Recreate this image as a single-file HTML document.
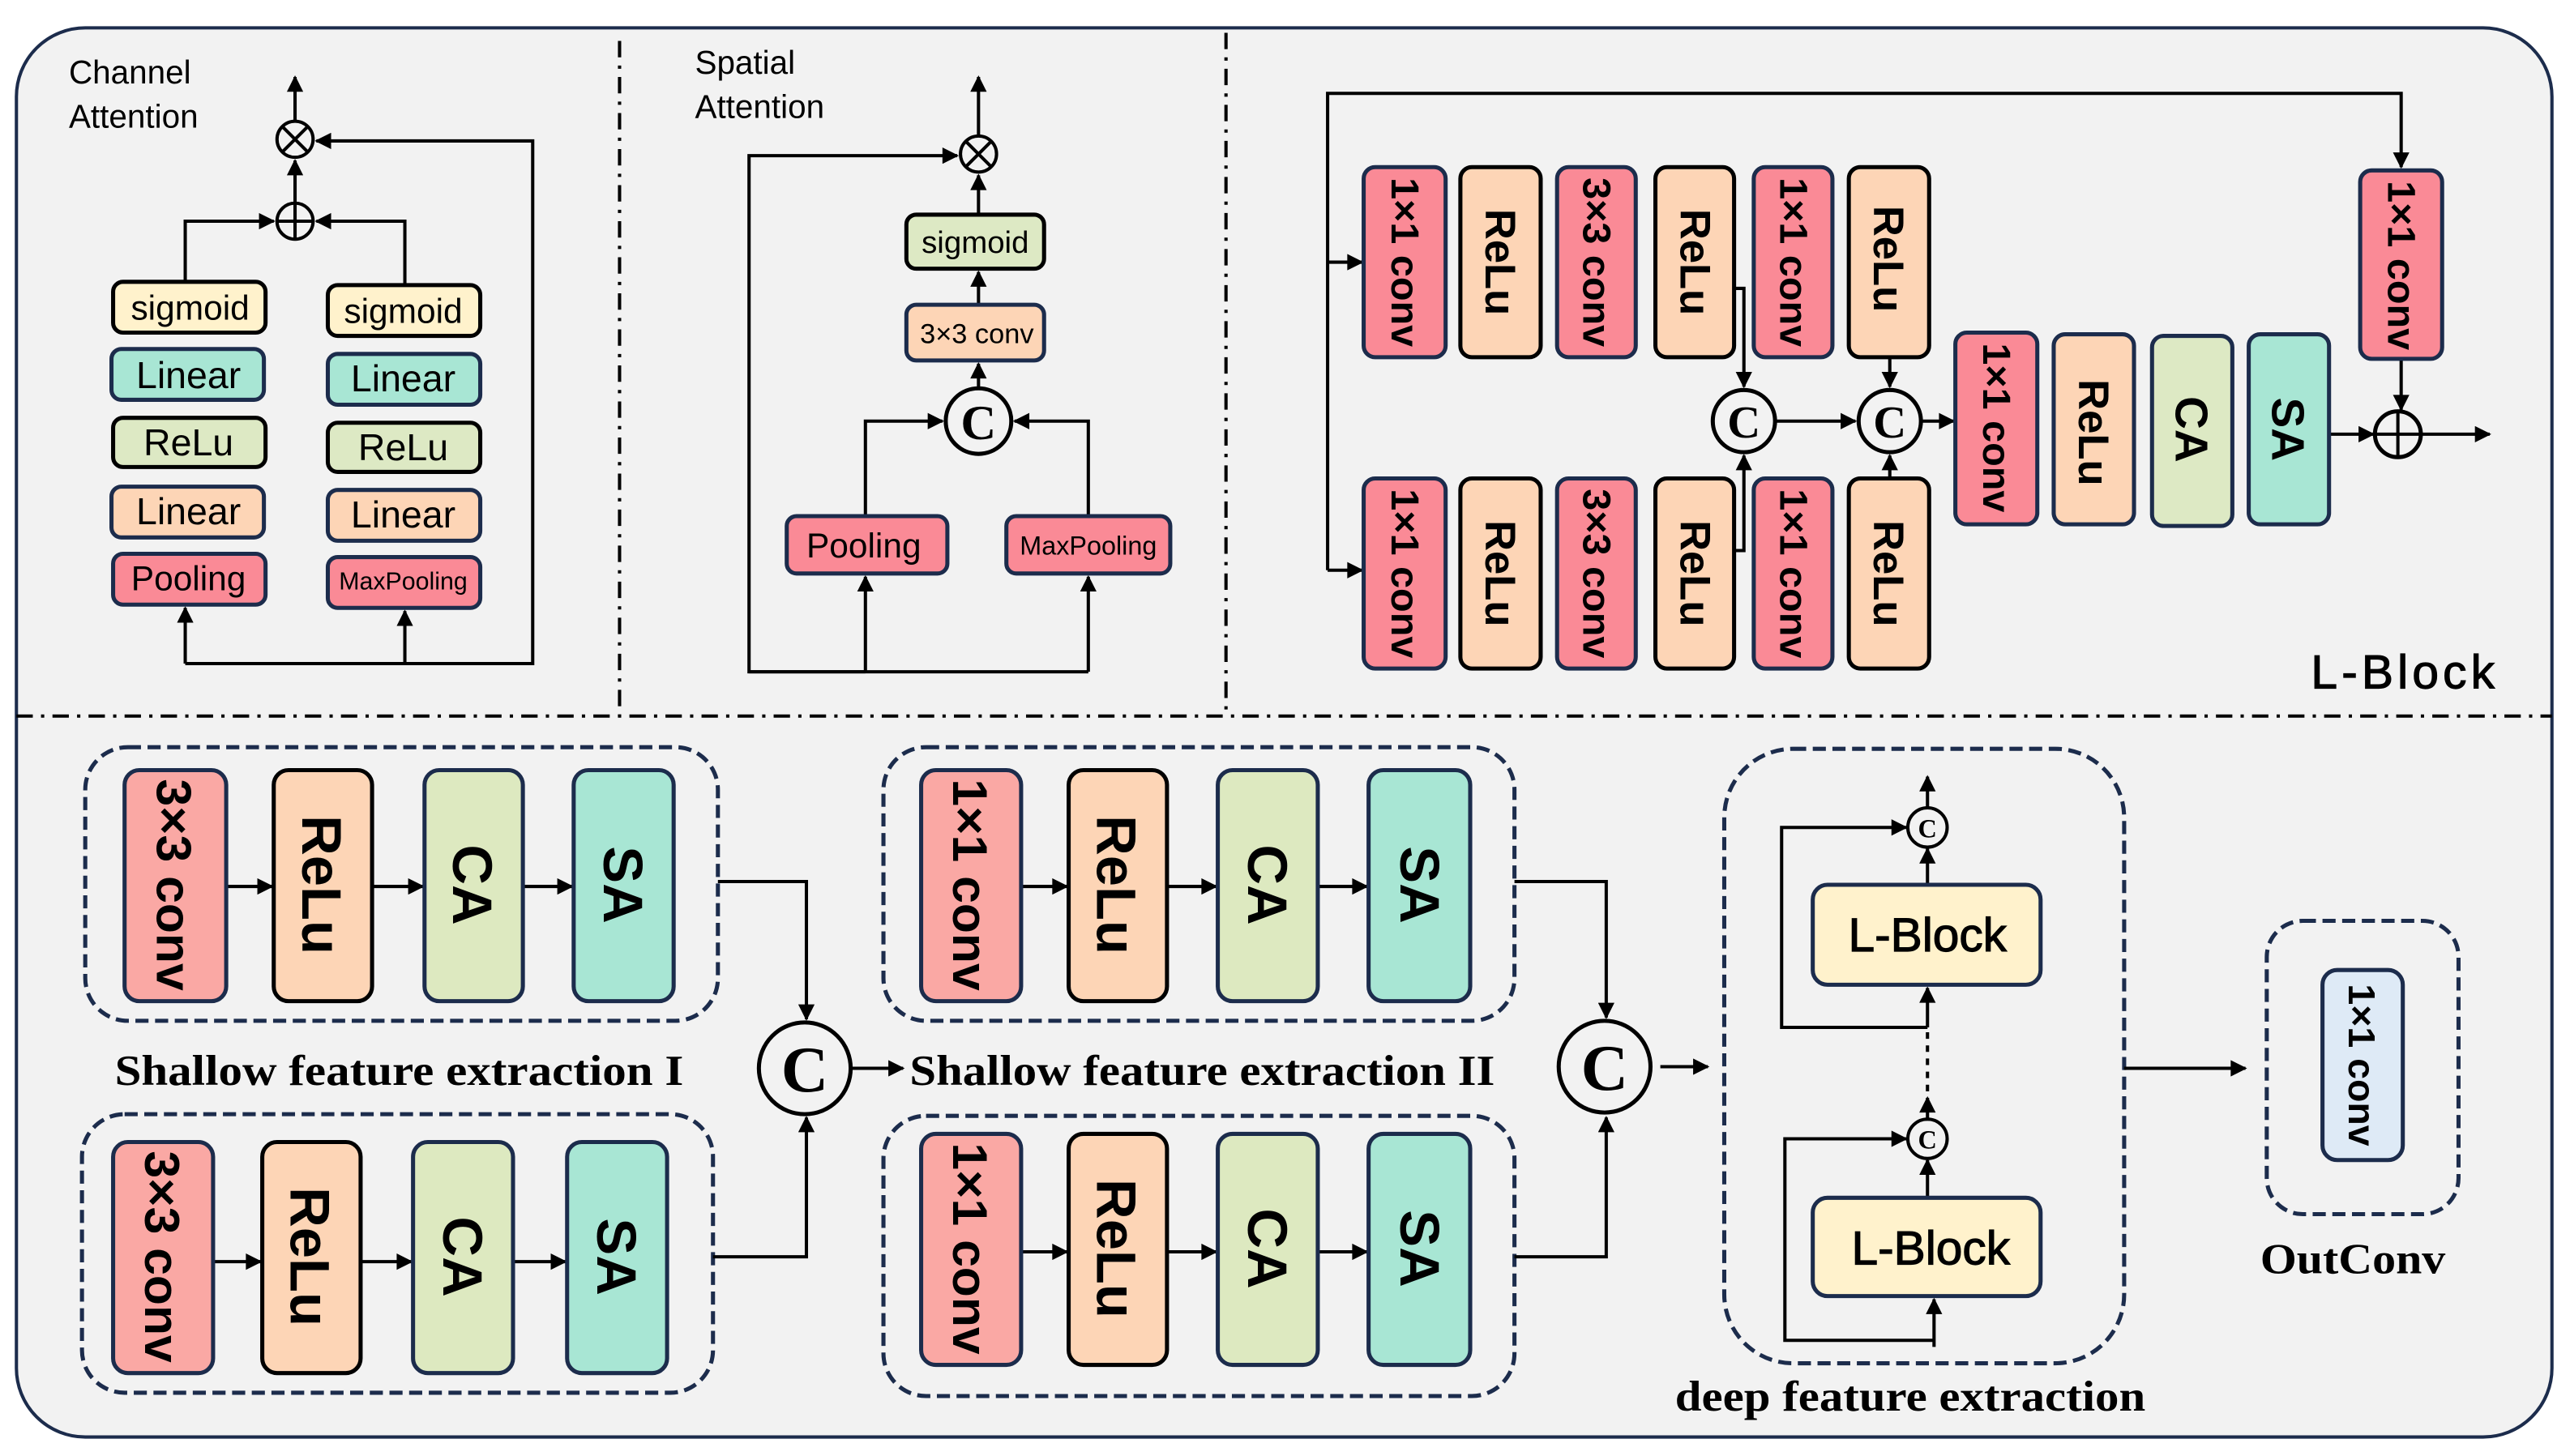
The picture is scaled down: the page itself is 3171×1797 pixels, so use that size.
<!DOCTYPE html>
<html><head><meta charset="utf-8"><style>
html,body{margin:0;padding:0;background:#fff;}
svg{display:block;}
.s{font-family:"Liberation Sans",sans-serif;}
.b{font-family:"Liberation Sans",sans-serif;font-weight:bold;}
.sr{font-family:"Liberation Serif",serif;font-weight:bold;}
</style></head><body>
<svg width="3171" height="1797" viewBox="0 0 1568 888.6" xmlns="http://www.w3.org/2000/svg">
<defs>
<marker id="a" viewBox="0 0 10 10" refX="9" refY="5" markerWidth="5.5" markerHeight="5" orient="auto" markerUnits="strokeWidth"><path d="M0,0 L10,5 L0,10 z" fill="#000"/></marker>
</defs>
<rect x="0" y="0" width="1568" height="888.6" fill="#fff"/>
<rect x="10" y="17" width="1547" height="860" rx="42" fill="#f2f2f2" stroke="#1c2c4c" stroke-width="2"/>
<g stroke="#000" stroke-width="2" stroke-dasharray="10,5,2,5" fill="none">
<line x1="378" y1="25" x2="378" y2="437"/>
<line x1="748" y1="20" x2="748" y2="437"/>
<line x1="10" y1="437" x2="1557" y2="437"/>
</g>

<!-- Channel attention -->
<text class="s" x="42" y="51" font-size="20">Channel</text>
<text class="s" x="42" y="78" font-size="20">Attention</text>
<g stroke="#000" stroke-width="2" fill="none">
<line x1="180" y1="74" x2="180" y2="47" marker-end="url(#a)"/>
<line x1="180" y1="124" x2="180" y2="98" marker-end="url(#a)"/>
<circle cx="180" cy="85" r="11"/><line x1="172" y1="77" x2="188" y2="93"/><line x1="188" y1="77" x2="172" y2="93"/>
<circle cx="180" cy="135" r="11"/><line x1="169" y1="135" x2="191" y2="135"/><line x1="180" y1="124" x2="180" y2="146"/>
<polyline points="113,172 113,135 167,135" marker-end="url(#a)"/>
<polyline points="247,174 247,135 193,135" marker-end="url(#a)"/>
<polyline points="113,405 325,405 325,86 193,86" marker-end="url(#a)"/>
<line x1="113" y1="405" x2="113" y2="371" marker-end="url(#a)"/>
<line x1="247" y1="405" x2="247" y2="373" marker-end="url(#a)"/>
</g>
<g stroke="#1c2c4c" stroke-width="2.5">
<rect x="69" y="172" width="93" height="31" rx="6" fill="#fff2cc" stroke="#000"/>
<rect x="200" y="174" width="93" height="31" rx="6" fill="#fff2cc" stroke="#000"/>
<rect x="68" y="213" width="93" height="31" rx="6" fill="#a8e6d4"/>
<rect x="200" y="216" width="93" height="31" rx="6" fill="#a8e6d4"/>
<rect x="69" y="255" width="93" height="30" rx="6" fill="#dde9c4" stroke="#000"/>
<rect x="200" y="258" width="93" height="30" rx="6" fill="#dde9c4" stroke="#000"/>
<rect x="68" y="297" width="93" height="31" rx="6" fill="#fdd5b6"/>
<rect x="200" y="299" width="93" height="31" rx="6" fill="#fdd5b6"/>
<rect x="69" y="338" width="93" height="31" rx="6" fill="#fa8a96"/>
<rect x="200" y="340" width="93" height="31" rx="6" fill="#fa8a96"/>
</g>
<g class="s" font-size="21" text-anchor="middle" dominant-baseline="central">
<text x="116" y="188">sigmoid</text><text x="246" y="190">sigmoid</text>
<text x="115" y="229" font-size="23">Linear</text><text x="246" y="231" font-size="23">Linear</text>
<text x="115" y="270" font-size="23">ReLu</text><text x="246" y="273" font-size="23">ReLu</text>
<text x="115" y="312" font-size="23">Linear</text><text x="246" y="314" font-size="23">Linear</text>
<text x="115" y="353" font-size="21">Pooling</text><text x="246" y="355" font-size="15">MaxPooling</text>
</g>

<!-- Spatial attention -->
<text class="s" x="424" y="45" font-size="20">Spatial</text>
<text class="s" x="424" y="72" font-size="20">Attention</text>
<g stroke="#000" stroke-width="2" fill="none">
<circle cx="597" cy="94" r="11"/><line x1="589" y1="86" x2="605" y2="102"/><line x1="605" y1="86" x2="589" y2="102"/>
<line x1="597" y1="83" x2="597" y2="47" marker-end="url(#a)"/>
<line x1="597" y1="131" x2="597" y2="107" marker-end="url(#a)"/>
<line x1="597" y1="186" x2="597" y2="166" marker-end="url(#a)"/>
<line x1="597" y1="237" x2="597" y2="222" marker-end="url(#a)"/>
<circle cx="597" cy="257" r="20" stroke-width="2.5"/>
<polyline points="528,315 528,257 575,257" marker-end="url(#a)"/>
<polyline points="664,315 664,257 619,257" marker-end="url(#a)"/>
<polyline points="528,410 457,410 457,95 584,95" marker-end="url(#a)"/>
<line x1="457" y1="410" x2="664" y2="410"/>
<line x1="528" y1="410" x2="528" y2="352" marker-end="url(#a)"/>
<line x1="664" y1="410" x2="664" y2="352" marker-end="url(#a)"/>
</g>
<text class="sr" x="597" y="268" font-size="30" text-anchor="middle">C</text>
<g stroke="#1c2c4c" stroke-width="2.5">
<rect x="553" y="131" width="84" height="33" rx="6" fill="#dde9c4" stroke="#000"/>
<rect x="553" y="186" width="84" height="34" rx="6" fill="#fdd5b6"/>
<rect x="480" y="315" width="98" height="35" rx="6" fill="#fa8a96"/>
<rect x="614" y="315" width="100" height="35" rx="6" fill="#fa8a96"/>
</g>
<g class="s" text-anchor="middle" dominant-baseline="central">
<text x="595" y="148" font-size="19">sigmoid</text>
<text x="596" y="204" font-size="17">3×3 conv</text>
<text x="527" y="333" font-size="21">Pooling</text>
<text x="664" y="333" font-size="16">MaxPooling</text>
</g>

<!-- L-Block -->
<g stroke="#000" stroke-width="2" fill="none">
<polyline points="810,348 810,57 1465,57 1465,102" marker-end="url(#a)"/>
<line x1="810" y1="160" x2="831" y2="160" marker-end="url(#a)"/>
<line x1="810" y1="348" x2="831" y2="348" marker-end="url(#a)"/>
<polyline points="1058,176 1064,176 1064,236" marker-end="url(#a)"/>
<polyline points="1058,336 1064,336 1064,278" marker-end="url(#a)"/>
<line x1="1153" y1="218" x2="1153" y2="236" marker-end="url(#a)"/>
<line x1="1153" y1="292" x2="1153" y2="278" marker-end="url(#a)"/>
<line x1="1084" y1="257" x2="1132" y2="257" marker-end="url(#a)"/>
<line x1="1173" y1="257" x2="1192" y2="257" marker-end="url(#a)"/>
<circle cx="1064" cy="257" r="19" stroke-width="2.5"/>
<circle cx="1153" cy="257" r="19" stroke-width="2.5"/>
<line x1="1465" y1="219" x2="1465" y2="250" marker-end="url(#a)"/>
<line x1="1421" y1="265" x2="1448" y2="265" marker-end="url(#a)"/>
<circle cx="1463" cy="265" r="14" stroke-width="2.5"/>
<line x1="1449" y1="265" x2="1477" y2="265"/><line x1="1463" y1="251" x2="1463" y2="279"/>
<line x1="1477" y1="265" x2="1519" y2="265" marker-end="url(#a)"/>
</g>
<g class="sr" font-size="28" text-anchor="middle"><text x="1064" y="267">C</text><text x="1153" y="267">C</text></g>
<g stroke-width="2.5">
<rect x="832" y="102" width="50" height="116" rx="7" fill="#fa8a96" stroke="#1c2c4c"/>
<rect x="891" y="102" width="49" height="116" rx="7" fill="#fdd5b6" stroke="#000"/>
<rect x="950" y="102" width="48" height="116" rx="7" fill="#fa8a96" stroke="#1c2c4c"/>
<rect x="1010" y="102" width="48" height="116" rx="7" fill="#fdd5b6" stroke="#000"/>
<rect x="1070" y="102" width="48" height="116" rx="7" fill="#fa8a96" stroke="#1c2c4c"/>
<rect x="1128" y="102" width="49" height="116" rx="7" fill="#fdd5b6" stroke="#000"/>
<rect x="832" y="292" width="50" height="116" rx="7" fill="#fa8a96" stroke="#1c2c4c"/>
<rect x="891" y="292" width="49" height="116" rx="7" fill="#fdd5b6" stroke="#000"/>
<rect x="950" y="292" width="48" height="116" rx="7" fill="#fa8a96" stroke="#1c2c4c"/>
<rect x="1010" y="292" width="48" height="116" rx="7" fill="#fdd5b6" stroke="#000"/>
<rect x="1070" y="292" width="48" height="116" rx="7" fill="#fa8a96" stroke="#1c2c4c"/>
<rect x="1128" y="292" width="49" height="116" rx="7" fill="#fdd5b6" stroke="#000"/>
<rect x="1193" y="203" width="50" height="117" rx="7" fill="#fa8a96" stroke="#1c2c4c"/>
<rect x="1253" y="204" width="49" height="116" rx="7" fill="#fdd5b6" stroke="#1c2c4c"/>
<rect x="1313" y="205" width="49" height="116" rx="7" fill="#dde9c4" stroke="#1c2c4c"/>
<rect x="1372" y="204" width="49" height="116" rx="7" fill="#a8e6d4" stroke="#1c2c4c"/>
<rect x="1440" y="104" width="50" height="115" rx="7" fill="#fa8a96" stroke="#1c2c4c"/>
</g>
<g class="b" text-anchor="middle" dominant-baseline="central">
<text transform="translate(857,160) rotate(90)" font-size="24">1×1 conv</text>
<text transform="translate(915,160) rotate(90)" font-size="26">ReLu</text>
<text transform="translate(974,160) rotate(90)" font-size="24">3×3 conv</text>
<text transform="translate(1034,160) rotate(90)" font-size="26">ReLu</text>
<text transform="translate(1094,160) rotate(90)" font-size="24">1×1 conv</text>
<text transform="translate(1152,158) rotate(90)" font-size="26">ReLu</text>
<text transform="translate(857,350) rotate(90)" font-size="24">1×1 conv</text>
<text transform="translate(915,350) rotate(90)" font-size="26">ReLu</text>
<text transform="translate(974,350) rotate(90)" font-size="24">3×3 conv</text>
<text transform="translate(1034,350) rotate(90)" font-size="26">ReLu</text>
<text transform="translate(1094,350) rotate(90)" font-size="24">1×1 conv</text>
<text transform="translate(1152,350) rotate(90)" font-size="26">ReLu</text>
<text transform="translate(1218,261) rotate(90)" font-size="24">1×1 conv</text>
<text transform="translate(1277,264) rotate(90)" font-size="26">ReLu</text>
<text transform="translate(1337,262) rotate(90)" font-size="28">CA</text>
<text transform="translate(1396,262) rotate(90)" font-size="28">SA</text>
<text transform="translate(1465,162) rotate(90)" font-size="24">1×1 conv</text>
</g>
<text class="s" x="1410" y="420" font-size="29" textLength="112" stroke="#000" stroke-width="0.6">L-Block</text>

<!-- Bottom -->
<g fill="none" stroke="#1c2c4c" stroke-width="2.5" stroke-dasharray="8,4">
<rect x="52" y="456" width="386" height="167" rx="26"/>
<rect x="50" y="680" width="385" height="170" rx="26"/>
<rect x="539" y="456" width="385" height="167" rx="26"/>
<rect x="539" y="681" width="385" height="171" rx="26"/>
<rect x="1052" y="457" width="244" height="375" rx="42"/>
<rect x="1383" y="562" width="117" height="179" rx="22"/>
</g>
<g stroke="#000" stroke-width="2" fill="none">
<line x1="138" y1="541" x2="166" y2="541" marker-end="url(#a)"/>
<line x1="227" y1="541" x2="258" y2="541" marker-end="url(#a)"/>
<line x1="319" y1="541" x2="349" y2="541" marker-end="url(#a)"/>
<line x1="130" y1="770" x2="159" y2="770" marker-end="url(#a)"/>
<line x1="220" y1="770" x2="251" y2="770" marker-end="url(#a)"/>
<line x1="313" y1="770" x2="345" y2="770" marker-end="url(#a)"/>
<line x1="623" y1="541" x2="651" y2="541" marker-end="url(#a)"/>
<line x1="712" y1="541" x2="742" y2="541" marker-end="url(#a)"/>
<line x1="804" y1="541" x2="834" y2="541" marker-end="url(#a)"/>
<line x1="623" y1="764" x2="651" y2="764" marker-end="url(#a)"/>
<line x1="712" y1="764" x2="742" y2="764" marker-end="url(#a)"/>
<line x1="804" y1="764" x2="834" y2="764" marker-end="url(#a)"/>
<polyline points="438,538 492,538 492,622" marker-end="url(#a)"/>
<polyline points="435,767 492,767 492,682" marker-end="url(#a)"/>
<circle cx="491" cy="652" r="28" stroke-width="2.5"/>
<line x1="520" y1="652" x2="551" y2="652" marker-end="url(#a)"/>
<polyline points="924,538 980,538 980,621" marker-end="url(#a)"/>
<polyline points="924,767 980,767 980,682" marker-end="url(#a)"/>
<circle cx="979" cy="651" r="28" stroke-width="2.5"/>
<line x1="1013" y1="651" x2="1042" y2="651" marker-end="url(#a)"/>
<line x1="1296" y1="652" x2="1370" y2="652" marker-end="url(#a)"/>
<!-- deep -->
<line x1="1176" y1="493" x2="1176" y2="474" marker-end="url(#a)"/>
<line x1="1176" y1="540" x2="1176" y2="518" marker-end="url(#a)"/>
<circle cx="1176" cy="505" r="12"/>
<polyline points="1176,627 1087,627 1087,505 1163,505" marker-end="url(#a)"/>
<line x1="1176" y1="627" x2="1176" y2="603" marker-end="url(#a)"/>
<line x1="1176" y1="630" x2="1176" y2="668" stroke-dasharray="4,4"/>
<line x1="1176" y1="684" x2="1176" y2="670" marker-end="url(#a)"/>
<circle cx="1176" cy="695" r="12"/>
<line x1="1176" y1="731" x2="1176" y2="708" marker-end="url(#a)"/>
<polyline points="1180,818 1089,818 1089,695 1163,695" marker-end="url(#a)"/>
<line x1="1180" y1="822" x2="1180" y2="793" marker-end="url(#a)"/>
</g>
<g class="sr" text-anchor="middle">
<text x="491" y="666" font-size="40">C</text>
<text x="979" y="665" font-size="40">C</text>
<text x="1176" y="511" font-size="16">C</text>
<text x="1176" y="701" font-size="16">C</text>
</g>
<g stroke-width="2.5">
<rect x="76" y="470" width="62" height="141" rx="9" fill="#faa8a4" stroke="#1c2c4c"/>
<rect x="167" y="470" width="60" height="141" rx="9" fill="#fdd5b6" stroke="#000"/>
<rect x="259" y="470" width="60" height="141" rx="9" fill="#dde9c0" stroke="#1c2c4c"/>
<rect x="350" y="470" width="61" height="141" rx="9" fill="#a8e6d4" stroke="#1c2c4c"/>
<rect x="69" y="697" width="61" height="141" rx="9" fill="#faa8a4" stroke="#1c2c4c"/>
<rect x="160" y="697" width="60" height="141" rx="9" fill="#fdd5b6" stroke="#000"/>
<rect x="252" y="697" width="61" height="141" rx="9" fill="#dde9c0" stroke="#1c2c4c"/>
<rect x="346" y="697" width="61" height="141" rx="9" fill="#a8e6d4" stroke="#1c2c4c"/>
<rect x="562" y="470" width="61" height="141" rx="9" fill="#faa8a4" stroke="#1c2c4c"/>
<rect x="652" y="470" width="60" height="141" rx="9" fill="#fdd5b6" stroke="#000"/>
<rect x="743" y="470" width="61" height="141" rx="9" fill="#dde9c0" stroke="#1c2c4c"/>
<rect x="835" y="470" width="62" height="141" rx="9" fill="#a8e6d4" stroke="#1c2c4c"/>
<rect x="562" y="692" width="61" height="141" rx="9" fill="#faa8a4" stroke="#1c2c4c"/>
<rect x="652" y="692" width="60" height="141" rx="9" fill="#fdd5b6" stroke="#000"/>
<rect x="743" y="692" width="61" height="141" rx="9" fill="#dde9c0" stroke="#1c2c4c"/>
<rect x="835" y="692" width="62" height="141" rx="9" fill="#a8e6d4" stroke="#1c2c4c"/>
<rect x="1106" y="540" width="139" height="61" rx="9" fill="#fff2cc" stroke="#1c2c4c"/>
<rect x="1106" y="731" width="139" height="60" rx="9" fill="#fff2cc" stroke="#1c2c4c"/>
<rect x="1417" y="592" width="49" height="116" rx="9" fill="#deeaf6" stroke="#1c2c4c"/>
</g>
<g class="b" text-anchor="middle" dominant-baseline="central">
<text transform="translate(106,540) rotate(90)" font-size="30">3×3 conv</text>
<text transform="translate(196,540) rotate(90)" font-size="34">ReLu</text>
<text transform="translate(288,540) rotate(90)" font-size="34">CA</text>
<text transform="translate(380,540) rotate(90)" font-size="34">SA</text>
<text transform="translate(99,767) rotate(90)" font-size="30">3×3 conv</text>
<text transform="translate(189,767) rotate(90)" font-size="34">ReLu</text>
<text transform="translate(282,767) rotate(90)" font-size="34">CA</text>
<text transform="translate(376,767) rotate(90)" font-size="34">SA</text>
<text transform="translate(592,540) rotate(90)" font-size="30">1×1 conv</text>
<text transform="translate(681,540) rotate(90)" font-size="34">ReLu</text>
<text transform="translate(773,540) rotate(90)" font-size="34">CA</text>
<text transform="translate(866,540) rotate(90)" font-size="34">SA</text>
<text transform="translate(592,762) rotate(90)" font-size="30">1×1 conv</text>
<text transform="translate(681,762) rotate(90)" font-size="34">ReLu</text>
<text transform="translate(773,762) rotate(90)" font-size="34">CA</text>
<text transform="translate(866,762) rotate(90)" font-size="34">SA</text>
<text transform="translate(1441,650) rotate(90)" font-size="23">1×1 conv</text>
</g>
<g class="s" text-anchor="middle" dominant-baseline="central" font-size="29" stroke="#000" stroke-width="0.6">
<text x="1176" y="571">L-Block</text>
<text x="1178" y="762">L-Block</text>
</g>
<g class="sr" font-size="26">
<text x="70" y="662" textLength="347" lengthAdjust="spacingAndGlyphs">Shallow feature extraction I</text>
<text x="555" y="662" textLength="357" lengthAdjust="spacingAndGlyphs">Shallow feature extraction II</text>
<text x="1022" y="861" textLength="287" lengthAdjust="spacingAndGlyphs">deep feature extraction</text>
<text x="1379" y="777" textLength="113" lengthAdjust="spacingAndGlyphs">OutConv</text>
</g>
</svg>
</body></html>
